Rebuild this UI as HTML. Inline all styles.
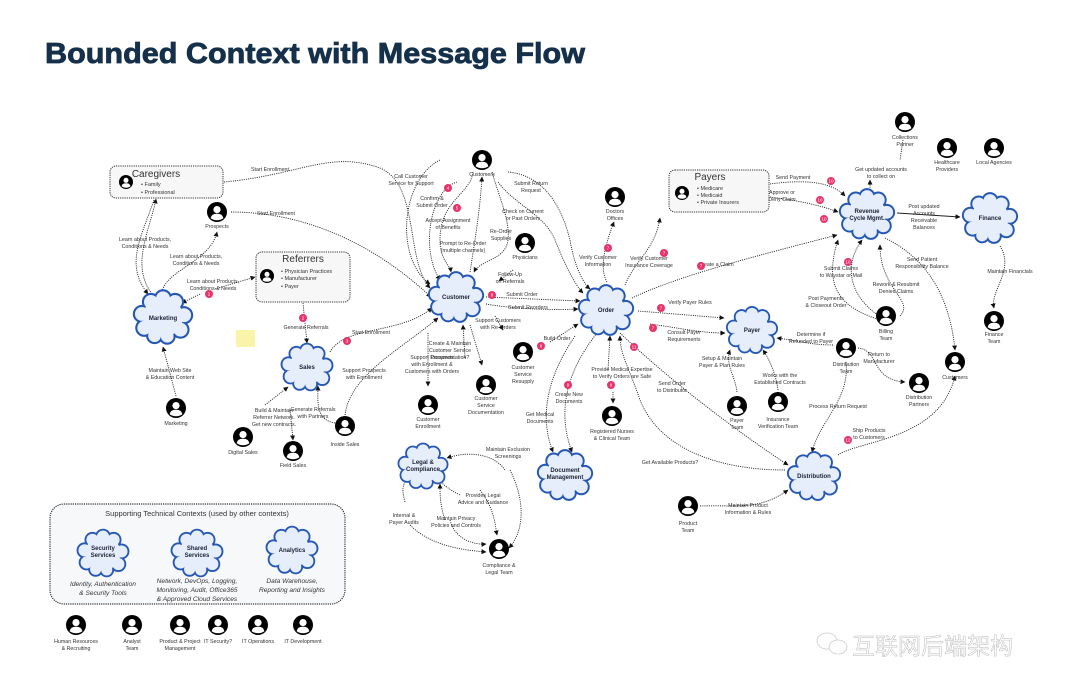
<!DOCTYPE html>
<html><head><meta charset="utf-8">
<style>
html,body{margin:0;padding:0;background:#fff;}
svg{display:block;}
.t{font-family:"Liberation Sans",sans-serif;font-size:5.3px;fill:#333;text-anchor:middle;}
.c{font-family:"Liberation Sans",sans-serif;font-size:6px;font-weight:bold;fill:#1a2233;text-anchor:middle;}
.l{fill:none;stroke:#222;stroke-width:0.9;stroke-dasharray:1.1 1.1;marker-end:url(#a);}
.b{fill:#e8336b;}
.bt{font-family:"Liberation Sans",sans-serif;font-size:4.5px;fill:#fff;text-anchor:middle;}
.h{font-family:"Liberation Sans",sans-serif;font-size:10px;fill:#333;text-anchor:middle;}
.li{font-family:"Liberation Sans",sans-serif;font-size:5.5px;fill:#333;}
.it{font-family:"Liberation Sans",sans-serif;font-size:6.6px;font-style:italic;fill:#333;text-anchor:middle;}
</style></head><body>
<svg width="1080" height="691" viewBox="0 0 1080 691" xmlns="http://www.w3.org/2000/svg">
<defs>
<marker id="a" viewBox="0 0 10 10" refX="9" refY="5" markerWidth="5" markerHeight="5" markerUnits="userSpaceOnUse" orient="auto"><path d="M0,0L10,5L0,10z" fill="#111"/></marker>
<symbol id="cl" viewBox="-3 -3 106 96">
<g fill="#2557b5"><circle cx="50" cy="45" r="36"/><circle cx="30" cy="20" r="15"/><circle cx="50" cy="14" r="15"/><circle cx="70" cy="20" r="15"/><circle cx="85" cy="42" r="15"/><circle cx="79" cy="66" r="15"/><circle cx="57" cy="77" r="14"/><circle cx="36" cy="76" r="14"/><circle cx="19" cy="63" r="15"/><circle cx="15" cy="40" r="15"/></g>
<g fill="#e6eefb"><circle cx="50" cy="45" r="33"/><circle cx="30" cy="20" r="11.5"/><circle cx="50" cy="14" r="11.5"/><circle cx="70" cy="20" r="11.5"/><circle cx="85" cy="42" r="11.5"/><circle cx="79" cy="66" r="11.5"/><circle cx="57" cy="77" r="10.5"/><circle cx="36" cy="76" r="10.5"/><circle cx="19" cy="63" r="11.5"/><circle cx="15" cy="40" r="11.5"/></g>
</symbol>
<symbol id="p" viewBox="0 0 20 20"><circle cx="10" cy="10" r="10" fill="#000"/><circle cx="10" cy="7.6" r="3.6" fill="#fff"/><path d="M3.6,16.2Q4.5,11.6 10,11.8Q15.5,11.6 16.4,16.2Q13.5,18.2 10,18.2Q6.5,18.2 3.6,16.2z" fill="#fff"/></symbol>
</defs>

<text x="45" y="63" font-family="Liberation Sans,sans-serif" font-size="29" font-weight="bold" fill="#15304a" stroke="#15304a" stroke-width="0.8" textLength="540" lengthAdjust="spacingAndGlyphs">Bounded Context with Message Flow</text>

<!-- boxes -->
<rect x="110" y="166" width="113" height="32" rx="6" fill="#f7f7f8" stroke="#333" stroke-width="1" stroke-dasharray="1.2 1"/>
<text x="156" y="177" class="h">Caregivers</text>
<use href="#p" x="119" y="175" width="14" height="14"/>
<text x="141" y="186" class="li">•  Family</text><text x="141" y="194" class="li">•  Professional</text>

<rect x="256" y="252" width="94" height="50" rx="6" fill="#f7f7f8" stroke="#333" stroke-width="1" stroke-dasharray="1.2 1"/>
<text x="303" y="262" class="h">Referrers</text>
<use href="#p" x="260" y="269" width="14" height="14"/>
<text x="281" y="273" class="li">•  Physician Practices</text><text x="281" y="280" class="li">•  Manufacturer</text><text x="281" y="288" class="li">•  Payer</text>

<rect x="669" y="170" width="100" height="42" rx="6" fill="#f7f7f8" stroke="#333" stroke-width="1" stroke-dasharray="1.2 1"/>
<text x="710" y="180" class="h">Payers</text>
<use href="#p" x="675" y="186" width="14" height="14"/>
<text x="697" y="190" class="li">•  Medicare</text><text x="697" y="197" class="li">•  Medicaid</text><text x="697" y="204" class="li">•  Private Insurers</text>

<rect x="50" y="504" width="295" height="100" rx="14" fill="#f7f8fa" stroke="#333" stroke-width="1.2" stroke-dasharray="1.2 1"/>
<text x="197" y="516" font-family="Liberation Sans,sans-serif" font-size="7.5" fill="#333" text-anchor="middle">Supporting Technical Contexts (used by other contexts)</text>

<!-- sticky -->
<rect x="236" y="330" width="19" height="17" fill="#faf4a8"/>

<!-- connectors -->
<path class="l" d="M224,182C300,175 330,150 380,168C420,185 405,260 430,288"/>
<path class="l" d="M231,212C300,212 370,240 431,297"/>
<path class="l" d="M152,294C130,265 150,230 156,199"/>
<path class="l" d="M154,200C140,240 125,265 148,294"/>
<path class="l" d="M162,292C166,270 210,262 217,232"/>
<path class="l" d="M200,294L182,303"/>
<path class="l" d="M215,289L255,277"/>
<path class="l" d="M303,303L307,343"/>
<path class="l" d="M330,352C345,325 400,335 432,308"/>
<path class="l" d="M345,415C350,375 400,350 438,318"/>
<path class="l" d="M176,396L163,347"/>
<path class="l" d="M265,405L288,387"/>
<path class="l" d="M290,410L293,440"/>
<path class="l" d="M335,423C315,420 318,400 318,386"/>
<path class="l" d="M440,160C400,180 395,260 430,284"/>
<path class="l" d="M457,182C430,190 420,250 440,280"/>
<path class="l" d="M473,172C470,195 440,200 440,240C440,260 450,265 451,272"/>
<path class="l" d="M470,272C475,240 480,210 482,177"/>
<path class="l" d="M492,172C500,200 510,220 508,240C506,260 480,260 474,272"/>
<path class="l" d="M513,270L499,281"/>
<path class="l" d="M486,297L580,301"/>
<path class="l" d="M486,304C520,310 560,310 578,309"/>
<path class="l" d="M495,316L503,330"/>
<path class="l" d="M550,342L578,324"/>
<path class="l" d="M470,325L482,365"/>
<path class="l" d="M428,333L428,386"/>
<path class="l" d="M465,358L463,325"/>
<path class="l" d="M508,172C540,175 560,200 570,240C575,270 585,285 590,289"/>
<path class="l" d="M498,182C515,205 545,215 555,240C565,265 575,285 583,293"/>
<path class="l" d="M607,282C600,270 603,250 614,222"/>
<path class="l" d="M625,285C635,260 655,250 660,218"/>
<path class="l" d="M632,298C680,275 760,255 837,235"/>
<path class="l" d="M638,311L724,318"/>
<path class="l" d="M650,324C680,328 700,333 725,333"/>
<path class="l" d="M620,333C680,390 750,440 788,465"/>
<path class="l" d="M608,370L610,336"/>
<path class="l" d="M613,392L613,403"/>
<path class="l" d="M597,333C560,380 560,420 572,452"/>
<path class="l" d="M575,336C545,380 540,420 553,452"/>
<path class="l" d="M785,470C720,470 660,450 640,400C630,370 620,355 620,336"/>
<path class="l" d="M737,392C735,375 725,365 730,350"/>
<path class="l" d="M778,390C776,375 770,360 763,350"/>
<path class="l" d="M833,345C810,345 795,340 777,338"/>
<path class="l" d="M770,184C800,180 830,180 845,196"/>
<path class="l" d="M770,197C795,200 820,205 838,212"/>
<path class="l" d="M870,190L870,180"/>
<path class="l" d="M903,140L900,160" style="marker-end:none"/>
<path d="M897,213L960,217" stroke="#222" stroke-width="0.9" fill="none" marker-end="url(#a)"/>
<path class="l" d="M885,238C930,260 950,300 955,350"/>
<path class="l" d="M878,315C855,300 840,270 862,240"/>
<path class="l" d="M900,316C915,300 880,290 880,245"/>
<path class="l" d="M880,320C850,310 820,295 838,240"/>
<path class="l" d="M1000,246C1015,270 990,290 994,308"/>
<path class="l" d="M858,348C880,350 870,380 905,382"/>
<path class="l" d="M846,362C850,400 820,420 812,452"/>
<path class="l" d="M838,455C860,440 940,440 955,376"/>
<path class="l" d="M700,506C740,505 760,510 788,490"/>
<path class="l" d="M505,470C495,455 470,450 447,458"/>
<path class="l" d="M510,470C525,500 525,530 509,548"/>
<path class="l" d="M480,490C495,510 495,525 497,535"/>
<path class="l" d="M460,495C440,485 435,475 440,478"/>
<path class="l" d="M450,520C455,540 475,545 486,544"/>
<path class="l" d="M445,520C440,505 440,495 440,484"/>
<path class="l" d="M405,502C400,485 405,480 410,480"/>
<path class="l" d="M410,525C430,545 460,550 486,552"/>

<!-- clouds -->
<use href="#cl" x="131" y="288" width="64" height="58"/><text x="163" y="320" class="c">Marketing</text>
<use href="#cl" x="279" y="341" width="56" height="52"/><text x="307" y="369" class="c">Sales</text>
<use href="#cl" x="425" y="270" width="62" height="54"/><text x="456" y="299" class="c">Customer</text>
<use href="#cl" x="575" y="283" width="62" height="54"/><text x="606" y="312" class="c">Order</text>
<use href="#cl" x="722" y="305" width="60" height="50"/><text x="752" y="332" class="c">Payer</text>
<use href="#cl" x="836" y="187" width="62" height="54"/><text x="867" y="213" class="c">Revenue</text><text x="867" y="220" class="c">Cycle Mgmt.</text>
<use href="#cl" x="959" y="191" width="62" height="54"/><text x="990" y="220" class="c">Finance</text>
<use href="#cl" x="783" y="450" width="62" height="52"/><text x="814" y="478" class="c">Distribution</text>
<use href="#cl" x="534" y="448" width="62" height="54"/><text x="565" y="472" class="c">Document</text><text x="565" y="479" class="c">Management</text>
<use href="#cl" x="396" y="438" width="54" height="56"/><text x="423" y="464" class="c">Legal &amp;</text><text x="423" y="471" class="c">Compliance</text>
<use href="#cl" x="75" y="525" width="56" height="56"/><text x="103" y="550" class="c">Security</text><text x="103" y="557" class="c">Services</text>
<use href="#cl" x="169" y="525" width="56" height="56"/><text x="197" y="550" class="c">Shared</text><text x="197" y="557" class="c">Services</text>
<use href="#cl" x="264" y="522" width="56" height="56"/><text x="292" y="552" class="c">Analytics</text>
<text x="103" y="586" class="it">Identity, Authentication</text><text x="103" y="595" class="it">&amp; Security Tools</text>
<text x="197" y="583" class="it">Network, DevOps, Logging,</text><text x="197" y="592" class="it">Monitoring, Audit, Office365</text><text x="197" y="601" class="it">&amp; Approved Cloud Services</text>
<text x="292" y="583" class="it">Data Warehouse,</text><text x="292" y="592" class="it">Reporting and Insights</text>

<!-- persons -->
<g>
<use href="#p" x="207" y="202" width="20" height="20"/><text x="217" y="228" class="t">Prospects</text>
<use href="#p" x="166" y="398" width="20" height="20"/><text x="176" y="425" class="t">Marketing</text>
<use href="#p" x="472" y="150" width="20" height="20"/><text x="482" y="176" class="t">Customers</text>
<use href="#p" x="515" y="233" width="20" height="20"/><text x="525" y="259" class="t">Physicians</text>
<use href="#p" x="605" y="187" width="20" height="20"/><text x="615" y="213" class="t">Doctors</text><text x="615" y="220" class="t">Offices</text>
<use href="#p" x="513" y="342" width="20" height="20"/><text x="523" y="369" class="t">Customer</text><text x="523" y="376" class="t">Service</text><text x="523" y="383" class="t">Resupply</text>
<use href="#p" x="476" y="375" width="20" height="20"/><text x="486" y="400" class="t">Customer</text><text x="486" y="407" class="t">Service</text><text x="486" y="414" class="t">Documentation</text>
<use href="#p" x="418" y="395" width="20" height="20"/><text x="428" y="421" class="t">Customer</text><text x="428" y="428" class="t">Enrollment</text>
<use href="#p" x="233" y="427" width="20" height="20"/><text x="243" y="454" class="t">Digital Sales</text>
<use href="#p" x="283" y="441" width="20" height="20"/><text x="293" y="467" class="t">Field Sales</text>
<use href="#p" x="335" y="416" width="20" height="20"/><text x="345" y="446" class="t">Inside Sales</text>
<use href="#p" x="602" y="406" width="20" height="20"/><text x="612" y="433" class="t">Registered Nurses</text><text x="612" y="440" class="t">&amp; Clinical Team</text>
<use href="#p" x="895" y="112" width="20" height="20"/><text x="905" y="139" class="t">Collections</text><text x="905" y="146" class="t">Partner</text>
<use href="#p" x="937" y="138" width="20" height="20"/><text x="947" y="164" class="t">Healthcare</text><text x="947" y="171" class="t">Providers</text>
<use href="#p" x="984" y="138" width="20" height="20"/><text x="994" y="164" class="t">Local Agencies</text>
<use href="#p" x="984" y="311" width="20" height="20"/><text x="994" y="336" class="t">Finance</text><text x="994" y="343" class="t">Team</text>
<use href="#p" x="876" y="306" width="20" height="20"/><text x="886" y="333" class="t">Billing</text><text x="886" y="340" class="t">Team</text>
<use href="#p" x="836" y="338" width="20" height="20"/><text x="846" y="366" class="t">Distribution</text><text x="846" y="373" class="t">Team</text>
<use href="#p" x="909" y="373" width="20" height="20"/><text x="919" y="399" class="t">Distribution</text><text x="919" y="406" class="t">Partners</text>
<use href="#p" x="945" y="352" width="20" height="20"/><text x="955" y="379" class="t">Customers</text>
<use href="#p" x="727" y="396" width="20" height="20"/><text x="737" y="422" class="t">Payer</text><text x="737" y="429" class="t">Team</text>
<use href="#p" x="768" y="392" width="20" height="20"/><text x="778" y="421" class="t">Insurance</text><text x="778" y="428" class="t">Verification Team</text>
<use href="#p" x="678" y="496" width="20" height="20"/><text x="688" y="525" class="t">Product</text><text x="688" y="532" class="t">Team</text>
<use href="#p" x="489" y="539" width="20" height="20"/><text x="499" y="567" class="t">Compliance &amp;</text><text x="499" y="574" class="t">Legal Team</text>
<use href="#p" x="66" y="615" width="20" height="20"/><text x="76" y="643" class="t">Human Resources</text><text x="76" y="650" class="t">&amp; Recruiting</text>
<use href="#p" x="122" y="615" width="20" height="20"/><text x="132" y="643" class="t">Analyst</text><text x="132" y="650" class="t">Team</text>
<use href="#p" x="170" y="615" width="20" height="20"/><text x="180" y="643" class="t">Product &amp; Project</text><text x="180" y="650" class="t">Management</text>
<use href="#p" x="208" y="615" width="20" height="20"/><text x="218" y="643" class="t">IT Security?</text>
<use href="#p" x="248" y="615" width="20" height="20"/><text x="258" y="643" class="t">IT Operations</text>
<use href="#p" x="293" y="615" width="20" height="20"/><text x="303" y="643" class="t">IT Development</text>
</g>

<!-- labels -->
<g>
<text x="270" y="171" class="t">Start Enrollment</text>
<text x="276" y="215" class="t">Start Enrollment</text>
<text x="145" y="241" class="t">Learn about Products,</text><text x="145" y="248" class="t">Conditions &amp; Needs</text>
<text x="196" y="258" class="t">Learn about Products,</text><text x="196" y="265" class="t">Conditions &amp; Needs</text>
<text x="213" y="283" class="t">Learn about Products,</text><text x="213" y="290" class="t">Conditions &amp; Needs</text>
<text x="306" y="329" class="t">Generate Referrals</text>
<text x="371" y="334" class="t">Start Enrollment</text>
<text x="364" y="372" class="t">Support Prospects</text><text x="364" y="379" class="t">with Enrollment</text>
<text x="170" y="372" class="t">Maintain Web Site</text><text x="170" y="379" class="t">&amp; Education Content</text>
<text x="274" y="412" class="t">Build &amp; Maintain</text><text x="274" y="419" class="t">Referrer Network.</text><text x="274" y="426" class="t">Get new contracts.</text>
<text x="313" y="411" class="t">Generate Referrals</text><text x="313" y="418" class="t">with Partners</text>
<text x="411" y="178" class="t">Call Customer</text><text x="411" y="185" class="t">Service for Support</text>
<text x="432" y="200" class="t">Confirm &amp;</text><text x="432" y="207" class="t">Submit Order</text>
<text x="448" y="222" class="t">Accept Assignment</text><text x="448" y="229" class="t">of Benefits</text>
<text x="463" y="245" class="t">Prompt to Re-Order</text><text x="463" y="252" class="t">(multiple channels)</text>
<text x="501" y="233" class="t">Re-Order</text><text x="501" y="240" class="t">Supplies</text>
<text x="510" y="276" class="t">Follow-Up</text><text x="510" y="283" class="t">on Referrals</text>
<text x="522" y="296" class="t">Submit Order</text>
<text x="528" y="309" class="t">Submit Reorders</text>
<text x="498" y="322" class="t">Support Customers</text><text x="498" y="329" class="t">with Re-Orders</text>
<text x="557" y="340" class="t">Build Order</text>
<text x="450" y="345" class="t">Create &amp; Maintain</text><text x="450" y="352" class="t">Customer Service</text><text x="450" y="359" class="t">Documentation?</text>
<text x="531" y="185" class="t">Submit Return</text><text x="531" y="192" class="t">Request</text>
<text x="523" y="213" class="t">Check on Current</text><text x="523" y="220" class="t">or Past Orders</text>
<text x="598" y="259" class="t">Verify Customer</text><text x="598" y="266" class="t">Information</text>
<text x="649" y="260" class="t">Verify Customer</text><text x="649" y="267" class="t">Insurance Coverage</text>
<text x="716" y="266" class="t">Create a Claim</text>
<text x="690" y="304" class="t">Verify Payer Rules</text>
<text x="684" y="334" class="t">Consult Payer</text><text x="684" y="341" class="t">Requirements</text>
<text x="672" y="385" class="t">Send Order</text><text x="672" y="392" class="t">to Distributor</text>
<text x="622" y="371" class="t">Provide Medical Expertise</text><text x="622" y="378" class="t">to Verify Orders are Safe</text>
<text x="569" y="396" class="t">Create New</text><text x="569" y="403" class="t">Documents</text>
<text x="540" y="416" class="t">Get Medical</text><text x="540" y="423" class="t">Documents</text>
<text x="670" y="464" class="t">Get Available Products?</text>
<text x="722" y="360" class="t">Setup &amp; Maintain</text><text x="722" y="367" class="t">Payer &amp; Plan Rules</text>
<text x="780" y="377" class="t">Works with the</text><text x="780" y="384" class="t">Established Contracts</text>
<text x="811" y="336" class="t">Determine if</text><text x="811" y="343" class="t">Refunded to Payer</text>
<text x="793" y="179" class="t">Send Payment</text>
<text x="782" y="194" class="t">Approve or</text><text x="782" y="201" class="t">Deny Claim</text>
<text x="881" y="171" class="t">Get updated accounts</text><text x="881" y="178" class="t">to collect on</text>
<text x="924" y="208" class="t">Post updated</text><text x="924" y="215" class="t">Accounts</text><text x="924" y="222" class="t">Receivable</text><text x="924" y="229" class="t">Balances</text>
<text x="922" y="261" class="t">Send Patient</text><text x="922" y="268" class="t">Responsibility Balance</text>
<text x="841" y="270" class="t">Submit Claims</text><text x="841" y="277" class="t">to Waystar or Mail</text>
<text x="896" y="286" class="t">Rework &amp; Resubmit</text><text x="896" y="293" class="t">Denied Claims</text>
<text x="826" y="300" class="t">Post Payments</text><text x="826" y="307" class="t">&amp; Closeout Order</text>
<text x="1010" y="273" class="t">Maintain Financials</text>
<text x="879" y="356" class="t">Return to</text><text x="879" y="363" class="t">Manufacturer</text>
<text x="838" y="408" class="t">Process Return Request</text>
<text x="869" y="432" class="t">Ship Products</text><text x="869" y="439" class="t">to Customers</text>
<text x="748" y="507" class="t">Maintain Product</text><text x="748" y="514" class="t">Information &amp; Rules</text>
<text x="508" y="451" class="t">Maintain Exclusion</text><text x="508" y="458" class="t">Screenings</text>
<text x="483" y="497" class="t">Provides Legal</text><text x="483" y="504" class="t">Advice and Guidance</text>
<text x="456" y="520" class="t">Maintain Privacy</text><text x="456" y="527" class="t">Policies and Controls</text>
<text x="404" y="517" class="t">Internal &amp;</text><text x="404" y="524" class="t">Payer Audits</text>
<text x="432" y="359" class="t">Support Prospects</text><text x="432" y="366" class="t">with Enrollment &amp;</text><text x="432" y="373" class="t">Customers with Orders</text>
</g>

<!-- badges -->
<g>
<circle class="b" cx="209" cy="294" r="4"/><text class="bt" x="209" y="295.6">1</text>
<circle class="b" cx="303" cy="318" r="4"/><text class="bt" x="303" y="319.6">2</text>
<circle class="b" cx="347" cy="341" r="4"/><text class="bt" x="347" y="342.6">3</text>
<circle class="b" cx="448" cy="188" r="4"/><text class="bt" x="448" y="189.6">4</text>
<circle class="b" cx="457" cy="208" r="4"/><text class="bt" x="457" y="209.6">5</text>
<circle class="b" cx="492" cy="295" r="4"/><text class="bt" x="492" y="296.6">8</text>
<circle class="b" cx="541" cy="346" r="4"/><text class="bt" x="541" y="347.6">6</text>
<circle class="b" cx="608" cy="248" r="4"/><text class="bt" x="608" y="249.6">7</text>
<circle class="b" cx="664" cy="253" r="4"/><text class="bt" x="664" y="254.6">7</text>
<circle class="b" cx="701" cy="266" r="4"/><text class="bt" x="701" y="267.6">7</text>
<circle class="b" cx="661" cy="308" r="4"/><text class="bt" x="661" y="309.6">7</text>
<circle class="b" cx="653" cy="328" r="4"/><text class="bt" x="653" y="329.6">7</text>
<circle class="b" cx="634" cy="347" r="4"/><text class="bt" x="634" y="348.6">11</text>
<circle class="b" cx="611" cy="385" r="4"/><text class="bt" x="611" y="386.6">9</text>
<circle class="b" cx="568" cy="385" r="4"/><text class="bt" x="568" y="386.6">9</text>
<circle class="b" cx="831" cy="181" r="4"/><text class="bt" x="831" y="182.6">10</text>
<circle class="b" cx="820" cy="200" r="4"/><text class="bt" x="820" y="201.6">10</text>
<circle class="b" cx="824" cy="219" r="4"/><text class="bt" x="824" y="220.6">10</text>
<circle class="b" cx="848" cy="262" r="4"/><text class="bt" x="848" y="263.6">10</text>
<circle class="b" cx="848" cy="440" r="4"/><text class="bt" x="848" y="441.6">12</text>
</g>

<!-- watermark -->
<g opacity="0.5" fill="none" stroke="#999" stroke-width="0.8">
<ellipse cx="827" cy="641" rx="10" ry="8"/><ellipse cx="838" cy="647" rx="9" ry="7" fill="#fff"/>
</g>
<text x="852" y="654" font-family="'Noto Sans CJK SC',sans-serif" font-size="23" fill="#fff" stroke="#bbb" stroke-width="0.5">互联网后端架构</text>
</svg>
</body></html>
